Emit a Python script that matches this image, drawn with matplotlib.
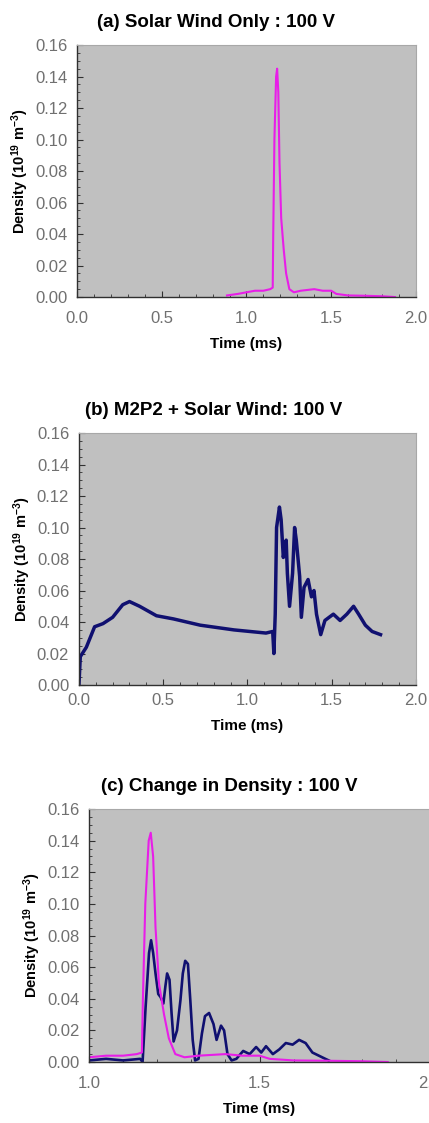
import matplotlib
matplotlib.use('Agg')
import matplotlib.pyplot as plt
from matplotlib.ticker import MultipleLocator

# Solar wind only (magenta), time in ms, density in 1e19 m^-3
sw_time = [0.885, 0.95, 1.0, 1.05, 1.10, 1.14, 1.155, 1.158, 1.165, 1.175, 1.181,
           1.188, 1.195, 1.205, 1.22, 1.234, 1.253, 1.28, 1.32, 1.40, 1.45, 1.50,
           1.53, 1.60, 1.70, 1.80, 1.876]
sw_dens = [0.001, 0.002, 0.003, 0.004, 0.004, 0.005, 0.006, 0.040, 0.100, 0.140, 0.145,
           0.130, 0.085, 0.050, 0.030, 0.015, 0.005, 0.003, 0.004, 0.005, 0.004, 0.004,
           0.002, 0.001, 0.0008, 0.0005, 0.0]

# M2P2 + solar wind (navy)
m2_time = [0.0, 0.008, 0.044, 0.093, 0.143, 0.20, 0.26, 0.30, 0.36, 0.46, 0.56, 0.72,
           0.92, 1.11, 1.15, 1.157, 1.165, 1.173, 1.19, 1.20, 1.213, 1.22, 1.23, 1.237,
           1.25, 1.268, 1.28, 1.29, 1.31, 1.32, 1.336, 1.36, 1.38, 1.395, 1.41, 1.435,
           1.46, 1.51, 1.55, 1.59, 1.63, 1.66, 1.70, 1.74, 1.79]
m2_dens = [0.0, 0.018, 0.024, 0.037, 0.039, 0.043, 0.051, 0.053, 0.050, 0.044, 0.042, 0.038,
           0.035, 0.033, 0.034, 0.020, 0.045, 0.100, 0.113, 0.105, 0.081, 0.086, 0.092, 0.071,
           0.050, 0.071, 0.100, 0.092, 0.069, 0.043, 0.062, 0.067, 0.056, 0.060, 0.045, 0.032,
           0.041, 0.045, 0.041, 0.045, 0.050, 0.045, 0.038, 0.034, 0.032]

# Change in density (navy, panel c)
dd_time = [1.0, 1.05, 1.10, 1.15, 1.157, 1.166, 1.176, 1.182, 1.188, 1.195, 1.203, 1.21,
           1.218, 1.224, 1.229, 1.236, 1.242, 1.248, 1.258, 1.268, 1.275, 1.282, 1.29,
           1.297, 1.304, 1.311, 1.321, 1.331, 1.34, 1.352, 1.365, 1.374, 1.387, 1.396,
           1.406, 1.418, 1.432, 1.452, 1.471, 1.49, 1.505, 1.519, 1.539, 1.558, 1.577,
           1.597, 1.616, 1.635, 1.655, 1.674, 1.693, 1.703]
dd_dens = [0.001, 0.002, 0.001, 0.002, 0.0, 0.035, 0.069, 0.077, 0.069, 0.056, 0.043, 0.041,
           0.037, 0.048, 0.056, 0.052, 0.031, 0.013, 0.020, 0.039, 0.056, 0.064, 0.062,
           0.039, 0.014, 0.001, 0.002, 0.018, 0.029, 0.031, 0.024, 0.014, 0.023, 0.020,
           0.005, 0.001, 0.002, 0.007, 0.005, 0.0095, 0.006, 0.010, 0.005, 0.008, 0.012,
           0.011, 0.014, 0.012, 0.006, 0.004, 0.002, 0.001]

titles = ['(a) Solar Wind Only : 100 V', '(b) M2P2 + Solar Wind: 100 V',
          '(c) Change in Density : 100 V']
y_label = r'Density (10$^{19}$ m$^{-3}$)'
x_label = 'Time (ms)'

MAGENTA = '#e81ee8'
NAVY = '#101070'
BG = '#c0c0c0'

plt.rcParams['font.family'] = ['Liberation Sans', 'DejaVu Sans']
plt.rcParams['mathtext.fontset'] = 'custom'
plt.rcParams['mathtext.rm'] = 'Liberation Sans:bold'
plt.rcParams['mathtext.it'] = 'Liberation Sans:bold'

fig = plt.figure(figsize=(4.29, 11.23), dpi=100)

# [left, bottom, width, height], xpad for tick labels, x range, title x (axes frac)
panels = [
    ([0.1795, 0.7355, 0.790, 0.2244], 10, (0.0, 2.0), 0.41),
    ([0.184, 0.390, 0.7855, 0.2244], 6, (0.0, 2.0), 0.40),
    ([0.2075, 0.0543, 0.795, 0.2253], 10, (1.0, 2.0), 0.41),
]

axes = []
for i, (rect, xpad, xr, tx) in enumerate(panels):
    ax = fig.add_axes(rect)
    ax.set_facecolor(BG)
    ax.set_xlim(*xr)
    ax.set_ylim(0, 0.16)
    ax.xaxis.set_major_locator(MultipleLocator(0.5))
    ax.xaxis.set_minor_locator(MultipleLocator(0.1))
    ax.yaxis.set_major_locator(MultipleLocator(0.02))
    ax.yaxis.set_minor_locator(MultipleLocator(0.005))
    ax.xaxis.set_major_formatter(plt.FormatStrFormatter('%.1f'))
    ax.yaxis.set_major_formatter(plt.FormatStrFormatter('%.2f'))
    ax.tick_params(which='both', direction='in', color='#303030', labelcolor='#707070',
                   labelsize=12)
    ax.tick_params(axis='y', which='major', length=4, pad=7)
    ax.tick_params(axis='y', which='minor', length=2)
    ax.tick_params(axis='x', which='major', length=4, pad=xpad)
    ax.tick_params(axis='x', which='minor', length=2)
    for s in ['left', 'bottom']:
        ax.spines[s].set_color('#303030')
        ax.spines[s].set_linewidth(1.0)
    for s in ['top', 'right']:
        ax.spines[s].set_color('#a8a8a8')
        ax.spines[s].set_linewidth(0.8)
    ax.set_title(titles[i], fontsize=13.5, fontweight='bold', pad=13, x=tx)
    ax.set_ylabel(y_label, fontsize=10.5, fontweight='bold', labelpad=3)
    ax.set_xlabel(x_label, fontsize=11, fontweight='bold', labelpad=8)
    axes.append(ax)

axes[0].plot(sw_time, sw_dens, color=MAGENTA, lw=1.5)
axes[1].plot(m2_time, m2_dens, color=NAVY, lw=2.5)
axes[2].plot(dd_time, dd_dens, color=NAVY, lw=1.9)
axes[2].plot(sw_time, sw_dens, color=MAGENTA, lw=1.5)

fig.savefig('out.png', dpi=100, facecolor='white')
